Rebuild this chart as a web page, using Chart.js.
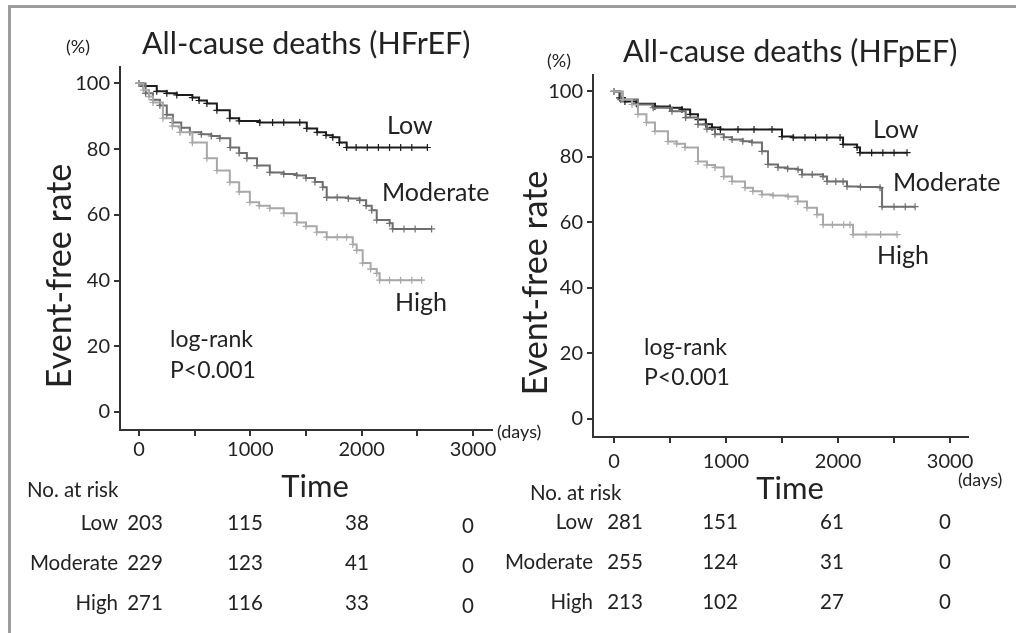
<!DOCTYPE html>
<html>
<head>
<meta charset="utf-8">
<script src="https://cdn.jsdelivr.net/npm/chart.js@4.4.1/dist/chart.umd.min.js"></script>
<style>
  body { margin: 0; background: #fff; width: 1016px; height: 633px; overflow: hidden; position: relative; }
  .frame { position: absolute; left: 8px; top: 5px; width: 1020px; height: 640px; border-top: 3px solid #9c9c9c; border-left: 3px solid #9c9c9c; }
  canvas { position: absolute; top: 0; }
  #chartR { left: 0; }
  #chartP { left: 500px; }
</style>
</head>
<body>
<div class="frame"></div>
<canvas id="chartR" width="560" height="633"></canvas>
<canvas id="chartP" width="516" height="633"></canvas>
<script>
// osie
const xTicks = [0, 500, 1000, 1500, 2000, 2500, 3000];
const yTicks = [0, 20, 40, 60, 80, 100];
const groups = ['Low', 'Moderate', 'High'];

// HFrEF - krzywe Kaplana-Meiera (dni, % bez zdarzenia)
const rLowDays = [0, 40, 160, 250, 340, 480, 540, 610, 700, 816, 900, 1085, 1200, 1300, 1444, 1507, 1600, 1680, 1740, 1800, 1865, 1950, 2050, 2150, 2250, 2350, 2450, 2590];
const rLowRate = [100, 99.2, 97.6, 97.0, 96.5, 95.7, 94.8, 93.9, 91.8, 89.4, 88.6, 88.1, 88.1, 88.1, 88.1, 86.3, 85.1, 84.2, 83.6, 82.0, 80.5, 80.5, 80.5, 80.5, 80.5, 80.5, 80.5, 80.5];
const rModDays = [0, 60, 126, 188, 250, 305, 380, 457, 560, 650, 726, 820, 900, 969, 1060, 1175, 1300, 1417, 1500, 1580, 1650, 1686, 1780, 1880, 1982, 2040, 2090, 2135, 2251, 2278, 2380, 2480, 2628];
const rModRate = [100, 97, 95, 93.3, 90.5, 88.1, 86.5, 85.1, 84.5, 84, 83.3, 80.5, 78.8, 77.2, 75, 72.9, 72.4, 72, 71.2, 70, 68.4, 65.3, 65.3, 65, 64.4, 62.8, 61.4, 58.4, 57.4, 55.7, 55.7, 55.7, 55.7];
const rHighDays = [0, 40, 90, 126, 215, 300, 368, 480, 610, 700, 816, 900, 996, 1080, 1175, 1300, 1417, 1500, 1596, 1686, 1780, 1865, 1920, 1955, 2009, 2080, 2135, 2161, 2250, 2350, 2450, 2538];
const rHighRate = [100, 98, 96, 94.2, 89.4, 87, 85.1, 82, 77.2, 73.5, 69.9, 67, 63.8, 62.8, 62, 60.5, 57.7, 56.5, 54.7, 53.2, 53.2, 53.2, 51, 49.2, 45.3, 43.5, 42.2, 40.1, 40.1, 40.1, 40.1, 40.1];

// HFpEF
const pLowDays = [0, 50, 98, 200, 366, 500, 607, 680, 750, 820, 875, 950, 1107, 1250, 1411, 1500, 1600, 1705, 1800, 1900, 2018, 2045, 2170, 2196, 2300, 2400, 2500, 2616];
const pLowRate = [100, 98, 96.9, 96.2, 95.4, 95, 94.5, 93, 91.4, 90, 89, 88.4, 88.4, 88.4, 88.4, 86.2, 85.9, 85.9, 85.9, 85.9, 85.9, 83.8, 82.9, 81.3, 81.3, 81.3, 81.3, 81.3];
const pModDays = [0, 60, 214, 350, 518, 640, 750, 830, 902, 980, 1054, 1150, 1232, 1321, 1375, 1464, 1550, 1643, 1679, 1770, 1866, 1902, 1980, 2045, 2080, 2200, 2375, 2393, 2500, 2600, 2688];
const pModRate = [100, 97.5, 96, 95, 93.9, 92, 89.9, 88.5, 86.9, 86, 85.3, 84.8, 84.4, 81.7, 77.7, 76.8, 76.4, 76.1, 74.6, 74.6, 74, 72.5, 72.5, 72.5, 71, 70.8, 70.6, 64.8, 64.8, 64.8, 64.8];
const pHighDays = [0, 80, 161, 214, 290, 366, 482, 560, 634, 750, 830, 902, 980, 1054, 1170, 1240, 1321, 1420, 1554, 1640, 1723, 1812, 1866, 1950, 2050, 2107, 2134, 2250, 2380, 2527];
const pHighRate = [100, 97.5, 96, 93, 90.5, 87.8, 84.7, 84, 82.9, 78.6, 77.5, 76.8, 74, 72.5, 70.6, 69.5, 68.5, 68.2, 67.9, 66.4, 64.5, 62.4, 59.3, 59.3, 59.3, 59.3, 56.3, 56.3, 56.3, 56.3];

// liczba pacjentów w ryzyku (0, 1000, 2000, 3000 dni)
const rRiskLow = [203, 115, 38, 0];
const rRiskMod = [229, 123, 41, 0];
const rRiskHigh = [271, 116, 33, 0];
const pRiskLow = [281, 151, 61, 0];
const pRiskMod = [255, 124, 31, 0];
const pRiskHigh = [213, 102, 27, 0];

const lineColors = ['#1c1c1c', '#6e6e6e', '#a8a8a8'];
const FONT = 'Lato, "Open Sans", sans-serif';
const TXT = '#222';

function pts(days, rate) {
    return days.map((d, i) => ({ x: d, y: rate[i] }));
}

// Plugin rysujący tytuł, etykiety i tabelę "No. at risk"
function decorPlugin(texts) {
    return {
        id: 'decor',
        afterDraw(chart) {
            const ctx = chart.ctx;
            ctx.save();
            ctx.fillStyle = TXT;
            texts.forEach(t => {
                ctx.save();
                ctx.font = t.size + 'px ' + FONT;
                ctx.textAlign = t.align || 'left';
                ctx.textBaseline = 'middle';
                ctx.translate(t.x, t.y);
                if (t.rot) ctx.rotate(t.rot);
                ctx.fillText(t.text, 0, 0);
                ctx.restore();
            });
            ctx.restore();
        }
    };
}

function riskTexts(rows, labelRight, cols, rowY, size, lastShift) {
    const out = [];
    rows.forEach((vals, r) => {
        out.push({ text: groups[r], x: labelRight, y: rowY[r], size: size, align: 'right' });
        vals.forEach((v, c) => out.push({ text: String(v), x: cols[c], y: rowY[r] + (c === vals.length - 1 ? lastShift : 0), size: size, align: 'center' }));
    });
    return out;
}

function makeChart(id, series, area, xMin, xMax, xLabelPad, texts) {
    const ctx = document.getElementById(id).getContext('2d');
    const canvasW = ctx.canvas.width, canvasH = ctx.canvas.height;
    return new Chart(ctx, {
        type: 'scatter',
        data: {
            datasets: series.map((s, i) => ({
                label: groups[i],
                data: pts(s[0], s[1]),
                showLine: true,
                stepped: 'before',
                borderColor: lineColors[i],
                backgroundColor: lineColors[i],
                borderWidth: 2,
                pointStyle: 'cross',
                pointRadius: 3.5,
                pointBorderWidth: 1.2,
                pointBorderColor: lineColors[i]
            })).reverse()
        },
        options: {
            responsive: false,
            animation: false,
            layout: { padding: { left: 0, top: area.top, right: canvasW - area.right, bottom: canvasH - area.bottom - 40 } },
            plugins: { legend: { display: false }, tooltip: { enabled: false } },
            scales: {
                x: {
                    type: 'linear', min: xMin, max: xMax,
                    afterBuildTicks: sc => { sc.ticks = xTicks.map(v => ({ value: v })); },
                    afterFit: sc => { sc.height = 40; },
                    border: { display: true, color: '#333', width: 2 },
                    grid: { drawOnChartArea: false, drawTicks: true, tickLength: 6, color: '#333', lineWidth: 2 },
                    ticks: {
                        color: TXT, padding: xLabelPad, maxRotation: 0, autoSkip: false,
                        font: { family: FONT, size: 20 },
                        callback: v => (v % 1000 === 0 ? String(v) : '')
                    }
                },
                y: {
                    type: 'linear', min: -5.5, max: 105,
                    afterBuildTicks: sc => { sc.ticks = yTicks.map(v => ({ value: v })); },
                    afterFit: sc => { sc.width = area.left; },
                    border: { display: true, color: '#333', width: 2 },
                    grid: { drawOnChartArea: false, drawTicks: true, tickLength: 6, color: '#333', lineWidth: 2 },
                    ticks: { color: TXT, padding: 4, font: { family: FONT, size: 20 } }
                }
            }
        },
        plugins: [decorPlugin(texts)]
    });
}

const textsR = [
    { text: '(%)', x: 78, y: 47, size: 18, align: 'center' },
    { text: 'All-cause deaths (HFrEF)', x: 142, y: 44, size: 30.5 },
    { text: 'Event-free rate', x: 60, y: 276, size: 34, align: 'center', rot: -Math.PI / 2 },
    { text: 'Low', x: 387, y: 126, size: 25 },
    { text: 'Moderate', x: 382, y: 193, size: 25 },
    { text: 'High', x: 395, y: 303, size: 25 },
    { text: 'log-rank', x: 170, y: 340, size: 23 },
    { text: 'P<0.001', x: 170, y: 371, size: 23 },
    { text: '(days)', x: 497, y: 432, size: 18 },
    { text: 'No. at risk', x: 27, y: 490, size: 20.5 },
    { text: 'Time', x: 315, y: 487, size: 31, align: 'center' }
].concat(riskTexts([rRiskLow, rRiskMod, rRiskHigh], 118, [145, 245, 357, 468], [523, 563, 603], 20.5, 3));

const textsP = [
    { text: '(%)', x: 59, y: 61, size: 18, align: 'center' },
    { text: 'All-cause deaths (HFpEF)', x: 123, y: 52, size: 30.5 },
    { text: 'Event-free rate', x: 36, y: 283, size: 34, align: 'center', rot: -Math.PI / 2 },
    { text: 'Low', x: 373, y: 130, size: 25 },
    { text: 'Moderate', x: 393, y: 183, size: 25 },
    { text: 'High', x: 377, y: 256, size: 25 },
    { text: 'log-rank', x: 144, y: 348, size: 23 },
    { text: 'P<0.001', x: 144, y: 378, size: 23 },
    { text: '(days)', x: 458, y: 480, size: 18 },
    { text: 'No. at risk', x: 30, y: 493, size: 20.5 },
    { text: 'Time', x: 290, y: 489, size: 31, align: 'center' }
].concat(riskTexts([pRiskLow, pRiskMod, pRiskHigh], 93, [125, 220, 332, 445], [522, 562, 602], 20.5, 0));

makeChart('chartR',
    [[rLowDays, rLowRate], [rModDays, rModRate], [rHighDays, rHighRate]],
    { left: 120, right: 492, top: 67, bottom: 430 }, -170, 3170, 2, textsR);

makeChart('chartP',
    [[pLowDays, pLowRate], [pModDays, pModRate], [pHighDays, pHighRate]],
    { left: 93, right: 468, top: 75, bottom: 437 }, -187, 3160, 7, textsP);
</script>
</body>
</html>
